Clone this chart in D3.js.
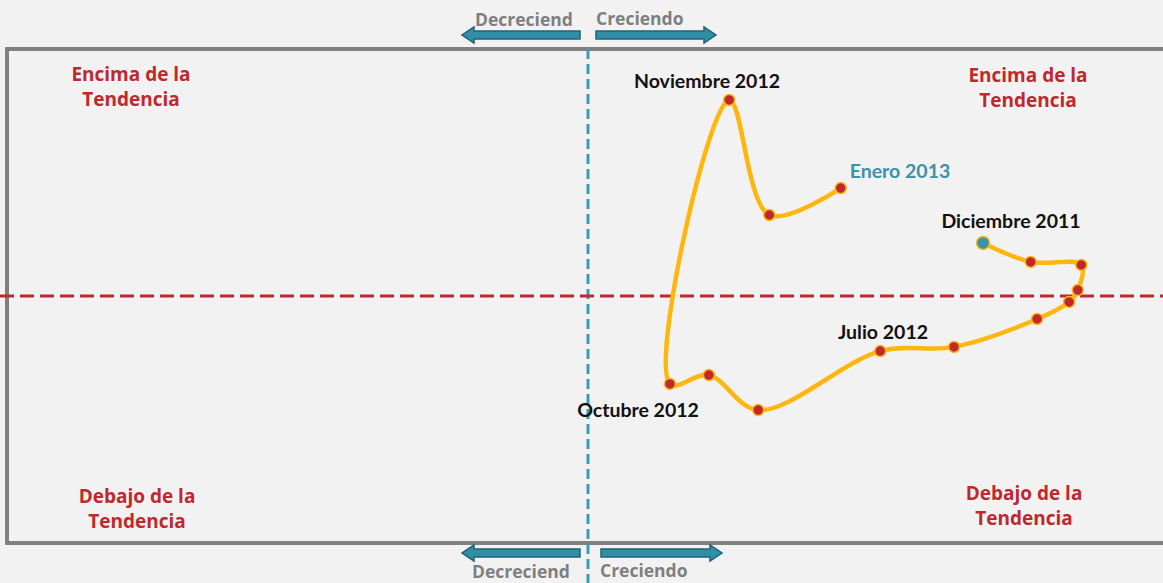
<!DOCTYPE html>
<html lang="es">
<head>
<meta charset="utf-8">
<title>Tendencia</title>
<script src="https://cdn.jsdelivr.net/npm/d3@7"></script>
<style>
  body { margin: 0; background: #f2f2f2; }
  text { font-family: Lato, "Open Sans", sans-serif; font-weight: bold; }
</style>
</head>
<body>
<script>
// months in order, Dic 2011 .. Ene 2013
var months = ["Diciembre 2011", "Enero 2012", "Febrero 2012", "Marzo 2012", "Abril 2012",
  "Mayo 2012", "Junio 2012", "Julio 2012", "Agosto 2012", "Septiembre 2012",
  "Octubre 2012", "Noviembre 2012", "Diciembre 2012", "Enero 2013"];
// growth (horizontal) and position vs trend (vertical)
var growth = [0.680, 0.762, 0.849, 0.843, 0.828, 0.773, 0.630, 0.503, 0.293, 0.208, 0.141, 0.243, 0.312, 0.435];
var trend  = [0.215, 0.138, 0.126, 0.024, -0.024, -0.093, -0.206, -0.223, -0.462, -0.320, -0.356, 0.794, 0.328, 0.437];
var labelled = ["Diciembre 2011", "Julio 2012", "Octubre 2012", "Noviembre 2012", "Enero 2013"];
var quadrantText = ["Encima de la", "Tendencia", "Debajo de la", "Tendencia"];

var width = 1163, height = 583;
var svg = d3.select("body").append("svg").attr("width", width).attr("height", height);

var x = d3.scaleLinear().domain([-1, 1]).range([7, 1169]);
var y = d3.scaleLinear().domain([-1, 1]).range([543, 49]);

var data = months.map(function(m, i) { return { month: m, gx: growth[i], ty: trend[i], i: i }; });

// frame
svg.append("rect")
  .attr("x", x(-1)).attr("y", y(1))
  .attr("width", x(1) - x(-1) + 20).attr("height", y(-1) - y(1))
  .style("fill", "#f2f2f2").style("stroke", "#808080").style("stroke-width", 4);

// zero lines
svg.append("line")
  .attr("x1", x(0)).attr("x2", x(0)).attr("y1", y(1)).attr("y2", height)
  .style("stroke", "#3a9bb5").style("stroke-width", 3).style("stroke-dasharray", "10,5");
svg.append("line")
  .attr("x1", 0).attr("x2", width).attr("y1", y(0)).attr("y2", y(0))
  .style("stroke", "#c0282d").style("stroke-width", 3).style("stroke-dasharray", "14,6");

// arrows above and below the frame
function arrow(x0, x1, yc) {
  var dir = x1 > x0 ? 1 : -1, head = 12;
  var xb = x1 - dir * head;
  var p = "M" + x0 + "," + (yc - 4) + " L" + xb + "," + (yc - 4) + " L" + xb + "," + (yc - 8) +
    " L" + x1 + "," + yc + " L" + xb + "," + (yc + 8) + " L" + xb + "," + (yc + 4) +
    " L" + x0 + "," + (yc + 4) + " Z";
  svg.append("path").attr("d", p)
    .style("fill", "#318ea4").style("stroke", "#1f6477").style("stroke-width", 1.5);
}
arrow(580, 462, 35);
arrow(596, 716, 35);
arrow(580, 462, 553);
arrow(601, 722, 553);

function grayText(tx, ty, s) {
  svg.append("text").attr("x", tx).attr("y", ty).text(s)
    .style("fill", "#7f7f7f").style("font-size", "17.5px").style("font-family", "'Open Sans', sans-serif");
}
grayText(475, 26, "Decreciend");
grayText(596, 25, "Creciendo");
grayText(472, 578, "Decreciend");
grayText(600, 577, "Creciendo");

// quadrant labels
function quad(cx, ty, a, b) {
  var t = svg.append("text").attr("text-anchor", "middle")
    .style("fill", "#c0282d").style("font-size", "19px").style("font-family", "'Open Sans', sans-serif");
  t.append("tspan").attr("x", cx).attr("y", ty).text(a);
  t.append("tspan").attr("x", cx).attr("y", ty + 25).text(b);
}
quad(131, 81, quadrantText[0], quadrantText[1]);
quad(1028, 82, quadrantText[0], quadrantText[1]);
quad(137, 503, quadrantText[2], quadrantText[3]);
quad(1024, 500, quadrantText[2], quadrantText[3]);

// path
var line = d3.line()
  .x(function(d) { return x(d.gx); })
  .y(function(d) { return y(d.ty); })
  .curve(d3.curveCatmullRom.alpha(0.5));

svg.append("path").datum(data).attr("d", line)
  .style("fill", "none").style("stroke", "#ffb60f").style("stroke-width", 4.5);

svg.selectAll("circle.pt").data(data).enter().append("circle")
  .attr("class", "pt")
  .attr("cx", function(d) { return x(d.gx); })
  .attr("cy", function(d) { return y(d.ty); })
  .attr("r", function(d) { return d.i == 0 ? 6.5 : 5.5; })
  .style("fill", function(d) { return d.i == 0 ? "#3a93aa" : "#c0282d"; })
  .style("stroke", "#ffb60f").style("stroke-width", 1.5);

// point labels
var labelPos = {
  "Diciembre 2011": [1011, 228, "#111"],
  "Julio 2012": [883, 339, "#111"],
  "Octubre 2012": [638, 417, "#111"],
  "Noviembre 2012": [707, 88, "#111"],
  "Enero 2013": [900, 178, "#3a93aa"]
};
svg.selectAll("text.lab").data(data.filter(function(d) { return labelled.indexOf(d.month) >= 0; }))
  .enter().append("text").attr("class", "lab")
  .attr("text-anchor", "middle")
  .attr("x", function(d) { return labelPos[d.month][0]; })
  .attr("y", function(d) { return labelPos[d.month][1]; })
  .style("fill", function(d) { return labelPos[d.month][2]; })
  .style("font-size", "19.5px")
  .text(function(d) { return d.month; });
</script>
</body>
</html>
